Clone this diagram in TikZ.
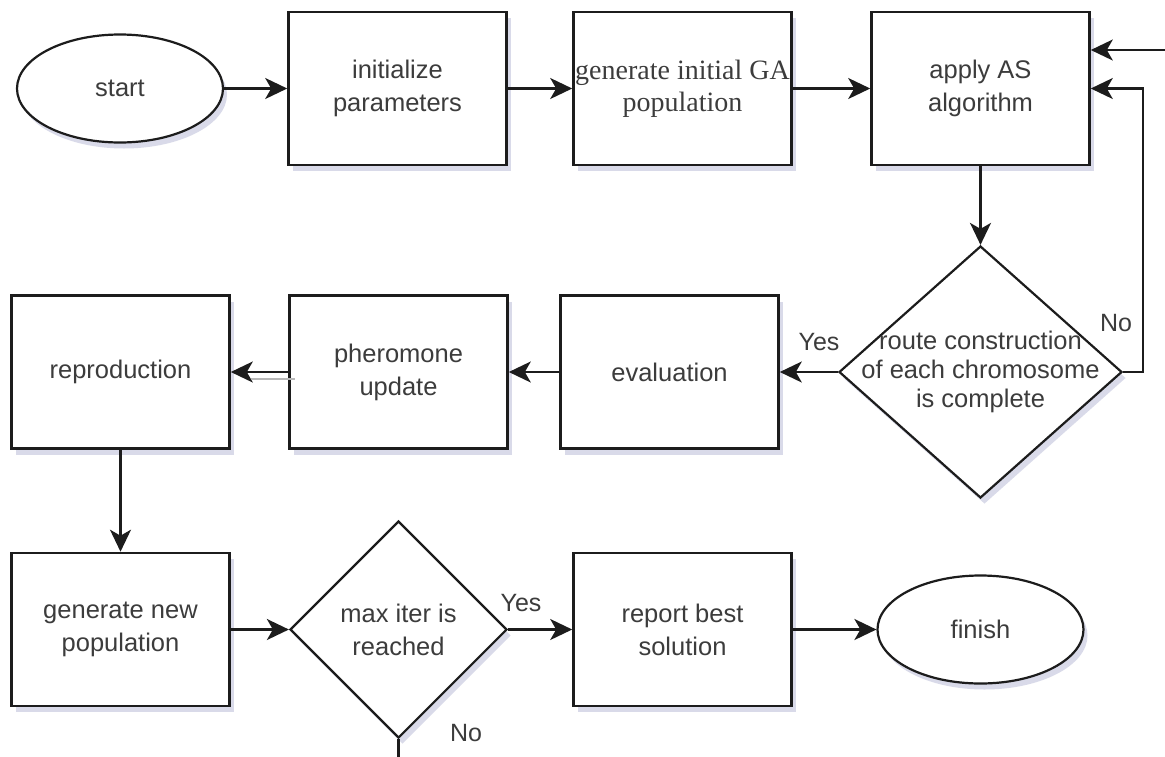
\documentclass[tikz,border=0pt]{standalone}
\usepackage{fontspec}
\setmainfont{Liberation Sans}
\newfontfamily\serifbox{Liberation Serif}
\usetikzlibrary{arrows.meta,shapes.geometric,shadows}
\definecolor{shadowc}{RGB}{180,183,212}
\definecolor{txt}{RGB}{60,60,60}
\definecolor{edge}{RGB}{28,28,28}

\begin{document}
\begin{tikzpicture}[x=1pt,y=-1pt,
  every node/.style={text=txt, font=\fontsize{25.5}{33}\selectfont},
  softshadow/.style={drop shadow={shadow xshift=4pt,shadow yshift=-6pt,fill=shadowc,opacity=0.5}},
  stepbox/.style={draw=edge, line width=2.6pt, fill=white, rectangle,
    minimum width=218pt, minimum height=153pt, inner sep=0pt, align=center, softshadow},
  terminal/.style={draw=edge, line width=2.2pt, fill=white, ellipse,
    minimum width=206pt, minimum height=108pt, inner sep=0pt, softshadow},
  decision/.style={draw=edge, line width=2.2pt, fill=white, diamond, inner sep=0pt, softshadow},
  txtlabel/.style={align=center, inner sep=0pt},
  answer/.style={font=\fontsize{25}{30}\selectfont, inner sep=0pt},
  flow/.style={draw=edge, line width=2.2pt, line join=miter,
    -{Stealth[length=22pt,width=21pt,inset=6pt]}},
]
\useasboundingbox[fill=white] (0,0) rectangle (1165,756);

% top row
\node[terminal] (start) at (120,88.5) {start};
\node[stepbox] (init) at (397.5,88.5) {initialize\\parameters};
\node[stepbox, font=\serifbox\fontsize{28}{32}\selectfont] (gen) at (682.5,88.5) {generate initial GA\\population};
\node[stepbox] (apply) at (980.5,88.5) {apply AS\\algorithm};

% middle row
\node[decision, minimum width=283pt, minimum height=252pt] (d1) at (980.5,372) {};
\node[txtlabel, font=\fontsize{25.5}{29}\selectfont] (d1text) at (d1.center) {route construction\\of each chromosome\\is complete};
\node[stepbox] (eval) at (669.5,372) {evaluation};
\node[stepbox] (pher) at (398.5,372) {pheromone\\update};
\node[stepbox] (repr) at (120.5,372) {reproduction};

% bottom row
\node[stepbox] (newpop) at (120.5,629.5) {generate new\\population};
\node[decision, minimum width=217pt, minimum height=217pt] (d2) at (398.5,629.5) {};
\node[txtlabel] (d2text) at (d2.center) {max iter is\\reached};
\node[stepbox] (report) at (682.5,629.5) {report best\\solution};
\node[terminal] (finish) at (980.5,629.5) {finish};

% connectors
\draw[flow] (start) -- (init);
\draw[flow] (init) -- (gen);
\draw[flow] (gen) -- (apply);
\draw[flow] (apply) -- (d1);
\coordinate (loopR) at (1143,88.5);
\draw[flow] (d1.east) -| (loopR) -- (apply.east);
\coordinate (topIn) at (1165,50);
\draw[flow] (topIn) -- (apply.east |- topIn);
\draw[flow] (d1) -- (eval);
\draw[flow] (eval) -- (pher);
\draw[flow] (pher) -- (repr);
\coordinate (ghostA) at (251,379);
\coordinate (ghostB) at (295,379);
\draw[black!28, line width=1.6pt] (ghostA) -- (ghostB);
\draw[flow] (repr) -- (newpop);
\draw[flow] (newpop) -- (d2);
\draw[flow] (d2) -- (report);
\coordinate (noOut) at (398.5,760);
\draw[draw=edge, line width=2.2pt] (d2.south) -- (noOut);
\draw[flow] (report) -- (finish);

% branch labels
\node[answer] (yes1) at (819,342) {Yes};
\node[answer] (no1) at (1116,323) {No};
\node[answer] (yes2) at (521,603) {Yes};
\node[answer] (no2) at (466,733) {No};
\end{tikzpicture}
\end{document}
